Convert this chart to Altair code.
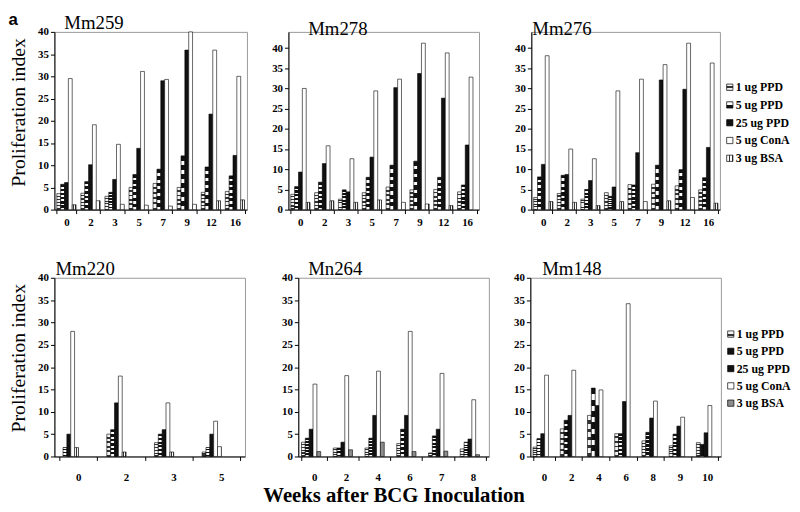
import altair as alt
import pandas as pd

SERIES = ["1 ug PPD", "5 ug PPD", "25 ug PPD", "5 ug ConA", "3 ug BSA"]

# ---- Mm259 ----
mm259_weeks = ["0", "2", "3", "5", "7", "9", "12", "16"]
mm259_ppd1 = [3.6, 3.7, 3.0, 5.0, 5.9, 5.0, 3.9, 4.1]
mm259_ppd5 = [5.7, 6.3, 3.9, 7.9, 9.1, 12.1, 9.6, 7.6]
mm259_ppd25 = [6.1, 10.1, 6.8, 13.8, 29.0, 35.9, 21.5, 12.2]
mm259_cona = [29.5, 19.1, 14.7, 31.1, 29.3, 40.0, 35.9, 30.0]
mm259_bsa = [1.1, 2.0, 1.2, 1.0, 0.8, 1.2, 2.0, 2.2]

# ---- Mm278 ----
mm278_weeks = ["0", "2", "3", "5", "7", "9", "12", "16"]
mm278_ppd1 = [3.8, 4.2, 2.6, 4.2, 5.6, 4.9, 5.0, 4.4]
mm278_ppd5 = [5.7, 6.8, 4.9, 8.0, 11.0, 12.0, 8.0, 6.1]
mm278_ppd25 = [9.3, 11.4, 4.4, 13.0, 30.2, 33.7, 27.6, 16.0]
mm278_cona = [30.0, 15.8, 12.6, 29.4, 32.3, 41.2, 38.8, 32.8]
mm278_bsa = [1.8, 2.2, 1.8, 2.4, 1.8, 1.4, 1.0, 0.0]

# ---- Mm276 ----
mm276_weeks = ["0", "2", "3", "5", "7", "9", "12", "16"]
mm276_ppd1 = [3.0, 4.0, 2.6, 4.2, 6.2, 6.3, 5.9, 4.9]
mm276_ppd5 = [8.1, 8.5, 5.0, 3.3, 6.1, 11.0, 9.9, 7.9]
mm276_ppd25 = [11.2, 8.7, 7.2, 5.6, 14.1, 32.1, 29.8, 15.4]
mm276_cona = [38.1, 15.0, 12.6, 29.4, 32.3, 35.9, 41.2, 36.3]
mm276_bsa = [2.0, 1.8, 1.0, 2.0, 2.0, 2.2, 3.0, 1.6]

# ---- Mm220 ----
mm220_weeks = ["0", "2", "3", "5"]
mm220_ppd1 = [0.0, 5.0, 3.1, 1.0]
mm220_ppd5 = [2.0, 6.0, 5.0, 2.0]
mm220_ppd25 = [5.0, 12.0, 6.0, 5.0]
mm220_cona = [28.0, 18.0, 12.0, 7.9]
mm220_bsa = [2.0, 1.0, 1.0, 2.2]

# ---- Mn264 ----
mn264_weeks = ["0", "2", "4", "6", "7", "8"]
mn264_ppd1 = [3.2, 1.9, 1.9, 2.9, 0.8, 1.7]
mn264_ppd5 = [4.1, 1.9, 4.1, 6.1, 4.6, 3.2]
mn264_ppd25 = [6.1, 3.2, 9.2, 9.2, 6.1, 3.9]
mn264_cona = [16.2, 18.1, 19.1, 28.0, 18.6, 12.7]
mn264_bsa = [1.1, 1.5, 3.2, 1.1, 1.2, 0.4]

# ---- Mm148 ----
mm148_weeks = ["0", "2", "4", "6", "8", "9", "10"]
mm148_ppd1 = [2.1, 6.2, 9.2, 5.1, 3.5, 2.4, 3.1]
mm148_ppd5 = [4.0, 8.1, 15.3, 5.1, 5.4, 5.0, 2.7]
mm148_ppd25 = [5.1, 9.2, 11.4, 12.3, 8.6, 6.8, 5.3]
mm148_cona = [18.2, 19.3, 14.9, 34.2, 12.4, 8.8, 11.4]
mm148_bsa = [0.0, 0.0, 0.0, 0.0, 0.0, 0.0, 0.0]

Y_TICKS = [0, 5, 10, 15, 20, 25, 30, 35, 40]
SERIF = "Liberation Serif"


def stripes(n, c1, c2, frac, vertical_lines=False):
    stops = []
    for k in range(n):
        a = k / n
        b = (k + frac) / n
        c = (k + 1) / n
        stops += [
            alt.GradientStop(offset=a, color=c1),
            alt.GradientStop(offset=b, color=c1),
            alt.GradientStop(offset=b, color=c2),
            alt.GradientStop(offset=c, color=c2),
        ]
    if vertical_lines:
        return alt.LinearGradient(gradient="linear", stops=stops, x1=0, y1=0, x2=1, y2=0)
    return alt.LinearGradient(gradient="linear", stops=stops, x1=0, y1=0, x2=0, y2=1)


FILL_TOP = {
    "1 ug PPD": stripes(5, "#f4f4f4", "#333333", 0.6),
    "5 ug PPD": stripes(6, "#111111", "#ffffff", 0.55),
    "25 ug PPD": "#111111",
    "5 ug ConA": "#ffffff",
    "3 ug BSA": stripes(2, "#ffffff", "#333333", 0.65, vertical_lines=True),
}
FILL_BOTTOM = dict(FILL_TOP)
FILL_BOTTOM["3 ug BSA"] = "#8c8c8c"
FILL_MM220 = dict(FILL_TOP)


def panel(name, weeks, values, ymax, width, height, title_dx,
          fills, y_title=False, x_title=False, label_pad=3):
    rows = []
    for s, vals in zip(SERIES, values):
        for w, v in zip(weeks, vals):
            rows.append({"week": w, "series": s, "value": v})
    df = pd.DataFrame(rows)

    xaxis_kw = dict(labelFont=SERIF, labelFontWeight="bold", labelFontSize=11,
                    labelAngle=0, tickBand="extent", tickSize=4,
                    labelPadding=label_pad, domainColor="black", tickColor="black")
    if x_title:
        xaxis_kw.update(title="Weeks after BCG Inoculation", titleFont=SERIF,
                        titleFontSize=21, titleFontWeight="bold", titlePadding=3)
    else:
        xaxis_kw.update(title="")

    yaxis_kw = dict(values=Y_TICKS, labelFont=SERIF, labelFontWeight="bold",
                    labelFontSize=11, tickSize=4, grid=False, labelPadding=2,
                    domainColor="black", tickColor="black")
    if y_title:
        yaxis_kw.update(title="Proliferation index", titleFont=SERIF,
                        titleFontSize=20, titleFontWeight="normal",
                        titlePadding=6, minExtent=20, maxExtent=20, titleY=81)
    else:
        yaxis_kw.update(title="")

    x = alt.X("week:N", sort=weeks,
              scale=alt.Scale(domain=weeks, paddingInner=0.2, paddingOuter=0.1),
              axis=alt.Axis(**xaxis_kw))
    xo = alt.XOffset("series:N",
                     scale=alt.Scale(domain=SERIES, paddingInner=0, paddingOuter=0))
    y = alt.Y("value:Q", scale=alt.Scale(domain=[0, ymax], nice=False),
              axis=alt.Axis(**yaxis_kw))

    base = alt.Chart(df).transform_filter(alt.datum.value > 0)
    layers = []
    for s in SERIES:
        layers.append(
            base.transform_filter(alt.datum.series == s)
            .mark_bar(fill=fills[s], stroke="#000000", strokeWidth=0.6)
            .encode(x=x, xOffset=xo, y=y)
        )
    return alt.layer(*layers).properties(
        width=width, height=height,
        title=alt.TitleParams(text=name, anchor="start", dx=title_dx, frame="group",
                              font=SERIF, fontSize=19, fontWeight="normal",
                              offset=-7),
    )


def legend(fills, height, y0, y1):
    ldf = pd.DataFrame({"series": SERIES})
    yenc = alt.Y("series:N", sort=SERIES,
                 scale=alt.Scale(domain=SERIES, range=[y0, y1], padding=0),
                 axis=None)
    layers = []
    for s in SERIES:
        layers.append(
            alt.Chart(ldf).transform_filter(alt.datum.series == s)
            .mark_square(size=40, fill=fills[s], stroke="#000000",
                         strokeWidth=0.7, opacity=1)
            .encode(x=alt.value(10), y=yenc)
        )
    layers.append(
        alt.Chart(ldf).mark_text(align="left", baseline="middle", font=SERIF,
                                 fontWeight="bold", fontSize=12, color="black")
        .encode(x=alt.value(16), y=yenc, text="series:N")
    )
    return alt.layer(*layers).properties(
        width=66, height=height, view=alt.ViewBackground(stroke="transparent")
    )


def spacer(width, height):
    return alt.Chart(pd.DataFrame({"s": [0]})).mark_point(opacity=0, size=1).encode(
        x=alt.value(1), y=alt.value(1)
    ).properties(width=width, height=height,
                 view=alt.ViewBackground(stroke="transparent"))


p1 = panel("Mm259", mm259_weeks,
           [mm259_ppd1, mm259_ppd5, mm259_ppd25, mm259_cona, mm259_bsa],
           40, 195, 180, 10, FILL_TOP, y_title=True)
p2 = panel("Mm278", mm278_weeks,
           [mm278_ppd1, mm278_ppd5, mm278_ppd25, mm278_cona, mm278_bsa],
           44, 193, 180, 20, FILL_TOP)
p3 = panel("Mm276", mm276_weeks,
           [mm276_ppd1, mm276_ppd5, mm276_ppd25, mm276_cona, mm276_bsa],
           44, 191, 180, 1, FILL_TOP)
p4 = panel("Mm220", mm220_weeks,
           [mm220_ppd1, mm220_ppd5, mm220_ppd25, mm220_cona, mm220_bsa],
           40, 193, 181, 1, FILL_MM220, y_title=True, label_pad=11)
p5 = panel("Mn264", mn264_weeks,
           [mn264_ppd1, mn264_ppd5, mn264_ppd25, mn264_cona, mn264_bsa],
           40, 193, 181, 10, FILL_BOTTOM, x_title=True, label_pad=11)
p6 = panel("Mm148", mm148_weeks,
           [mm148_ppd1, mm148_ppd5, mm148_ppd25, mm148_cona, mm148_bsa],
           40, 193, 181, 12, FILL_BOTTOM, label_pad=11)

leg_top = legend(FILL_TOP, 180, 56, 128)
leg_bot = legend(FILL_BOTTOM, 181, 57, 127)

row1 = alt.hconcat(p1, spacer(42, 180), p2, spacer(53, 180), p3, leg_top,
                   spacing=0, bounds="flush")
row2 = alt.hconcat(p4, spacer(54, 181), p5, spacer(42, 181), p6, leg_bot,
                   spacing=0, bounds="flush")

chart = alt.vconcat(row1, row2, spacing=31).properties(
    padding=0,
    title=alt.TitleParams(text="a", anchor="start", font="Liberation Sans",
                          fontSize=17, fontWeight="bold", offset=0, dy=16),
).configure_view(stroke="#999999", strokeWidth=1).configure_axis(
    labelColor="black", titleColor="black"
).configure_title(color="black")

chart.save("out.html", embed_options={"renderer": "svg", "actions": False})
